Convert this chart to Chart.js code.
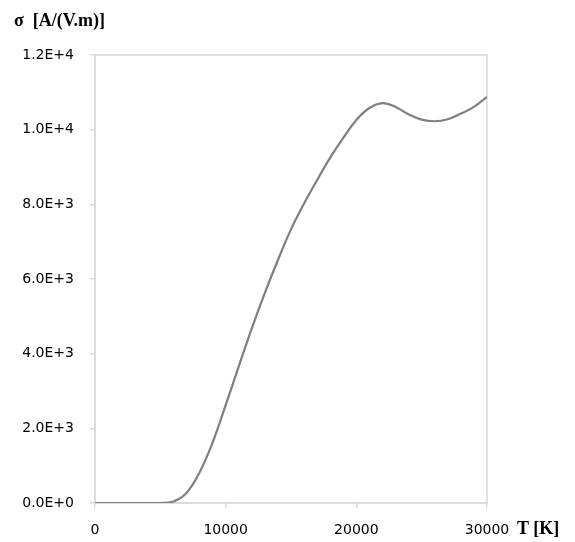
<!DOCTYPE html>
<html>
<head>
<meta charset="utf-8">
<script src="https://cdn.jsdelivr.net/npm/chart.js@4/dist/chart.umd.min.js"></script>
<style>
    html, body { margin: 0; padding: 0; background: #fff; }
    #contenedor { position: relative; width: 575px; height: 542px; }
    .titulo-eje {
        position: absolute;
        font-family: "Liberation Serif", "DejaVu Serif", serif;
        font-weight: bold;
        font-size: 18px;
        color: #000;
        white-space: nowrap;
    }
    #titulo-y { left: 14px; top: 10px; }
    #titulo-x { left: 517px; top: 518px; }
</style>
</head>
<body>
<div id="contenedor">
    <canvas id="graficoSigma" width="575" height="542"></canvas>
    <div class="titulo-eje" id="titulo-y">σ&nbsp; [A/(V.m)]</div>
    <div class="titulo-eje" id="titulo-x">T [K]</div>
</div>
<script>
// temperatura T [K] y conductividad sigma [A/(V.m)]
const temperaturas = [0, 1000, 2000, 3000, 4000, 5000, 6000, 7000, 8000, 9000, 10000,
    11000, 12000, 13000, 14000, 15000, 16000, 17000, 18000, 19000, 20000,
    21000, 22000, 23000, 24000, 25000, 26000, 27000, 28000, 29000, 30000];
const sigma = [0, 0, 0, 0, 0, 0, 40, 270, 820, 1620, 2620,
    3660, 4680, 5630, 6510, 7330, 8020, 8650, 9250, 9780, 10260,
    10580, 10710, 10610, 10410, 10270, 10225, 10280, 10430, 10610, 10880];

const ticksX = [0, 10000, 20000, 30000];
const ticksY = [0, 2000, 4000, 6000, 8000, 10000, 12000];
const etiquetasY = ["0.0E+0", "2.0E+3", "4.0E+3", "6.0E+3", "8.0E+3", "1.0E+4", "1.2E+4"];

document.addEventListener("DOMContentLoaded", () => {
    generarGrafico();
});

function generarGrafico() {
    const ctx = document.getElementById("graficoSigma").getContext("2d");
    const gris = "#d9d9d9";
    const fuente = { family: "'DejaVu Sans', sans-serif", size: 14 };

    // marco alrededor del area de trazado
    const marco = {
        id: "marco",
        beforeDatasetsDraw(chart) {
            const a = chart.chartArea;
            const c = chart.ctx;
            c.save();
            c.strokeStyle = gris;
            c.lineWidth = 1.5;
            c.strokeRect(a.left, a.top, a.right - a.left, a.bottom - a.top);
            c.restore();
        }
    };

    new Chart(ctx, {
        type: "line",
        data: {
            datasets: [{
                data: temperaturas.map((t, i) => ({ x: t, y: sigma[i] })),
                borderColor: "#7f7f7f",
                borderWidth: 2.2,
                pointRadius: 0,
                tension: 0.4,
                fill: false
            }]
        },
        options: {
            responsive: false,
            animation: false,
            layout: { padding: { top: 55, right: 88, bottom: 0, left: 0 } },
            plugins: {
                legend: { display: false },
                tooltip: { enabled: false }
            },
            scales: {
                x: {
                    type: "linear",
                    min: 0,
                    max: 30000,
                    afterBuildTicks: (s) => { s.ticks = ticksX.map(v => ({ value: v })); },
                    afterFit: (s) => { s.height = 39; },
                    ticks: {
                        color: "#000",
                        font: fuente,
                        padding: 14,
                        maxRotation: 0,
                        callback: (v) => String(v)
                    },
                    grid: { drawOnChartArea: false, color: gris, tickLength: 5, lineWidth: 1.5 },
                    border: { color: gris, width: 1.5 }
                },
                y: {
                    min: 0,
                    max: 12000,
                    afterBuildTicks: (s) => { s.ticks = ticksY.map(v => ({ value: v })); },
                    afterFit: (s) => { s.width = 95; },
                    ticks: {
                        color: "#000",
                        font: fuente,
                        padding: 16,
                        callback: (v, i) => etiquetasY[i]
                    },
                    grid: { drawOnChartArea: false, color: gris, tickLength: 5, lineWidth: 1.5 },
                    border: { color: gris, width: 1.5 }
                }
            }
        },
        plugins: [marco]
    });
}
</script>
</body>
</html>
